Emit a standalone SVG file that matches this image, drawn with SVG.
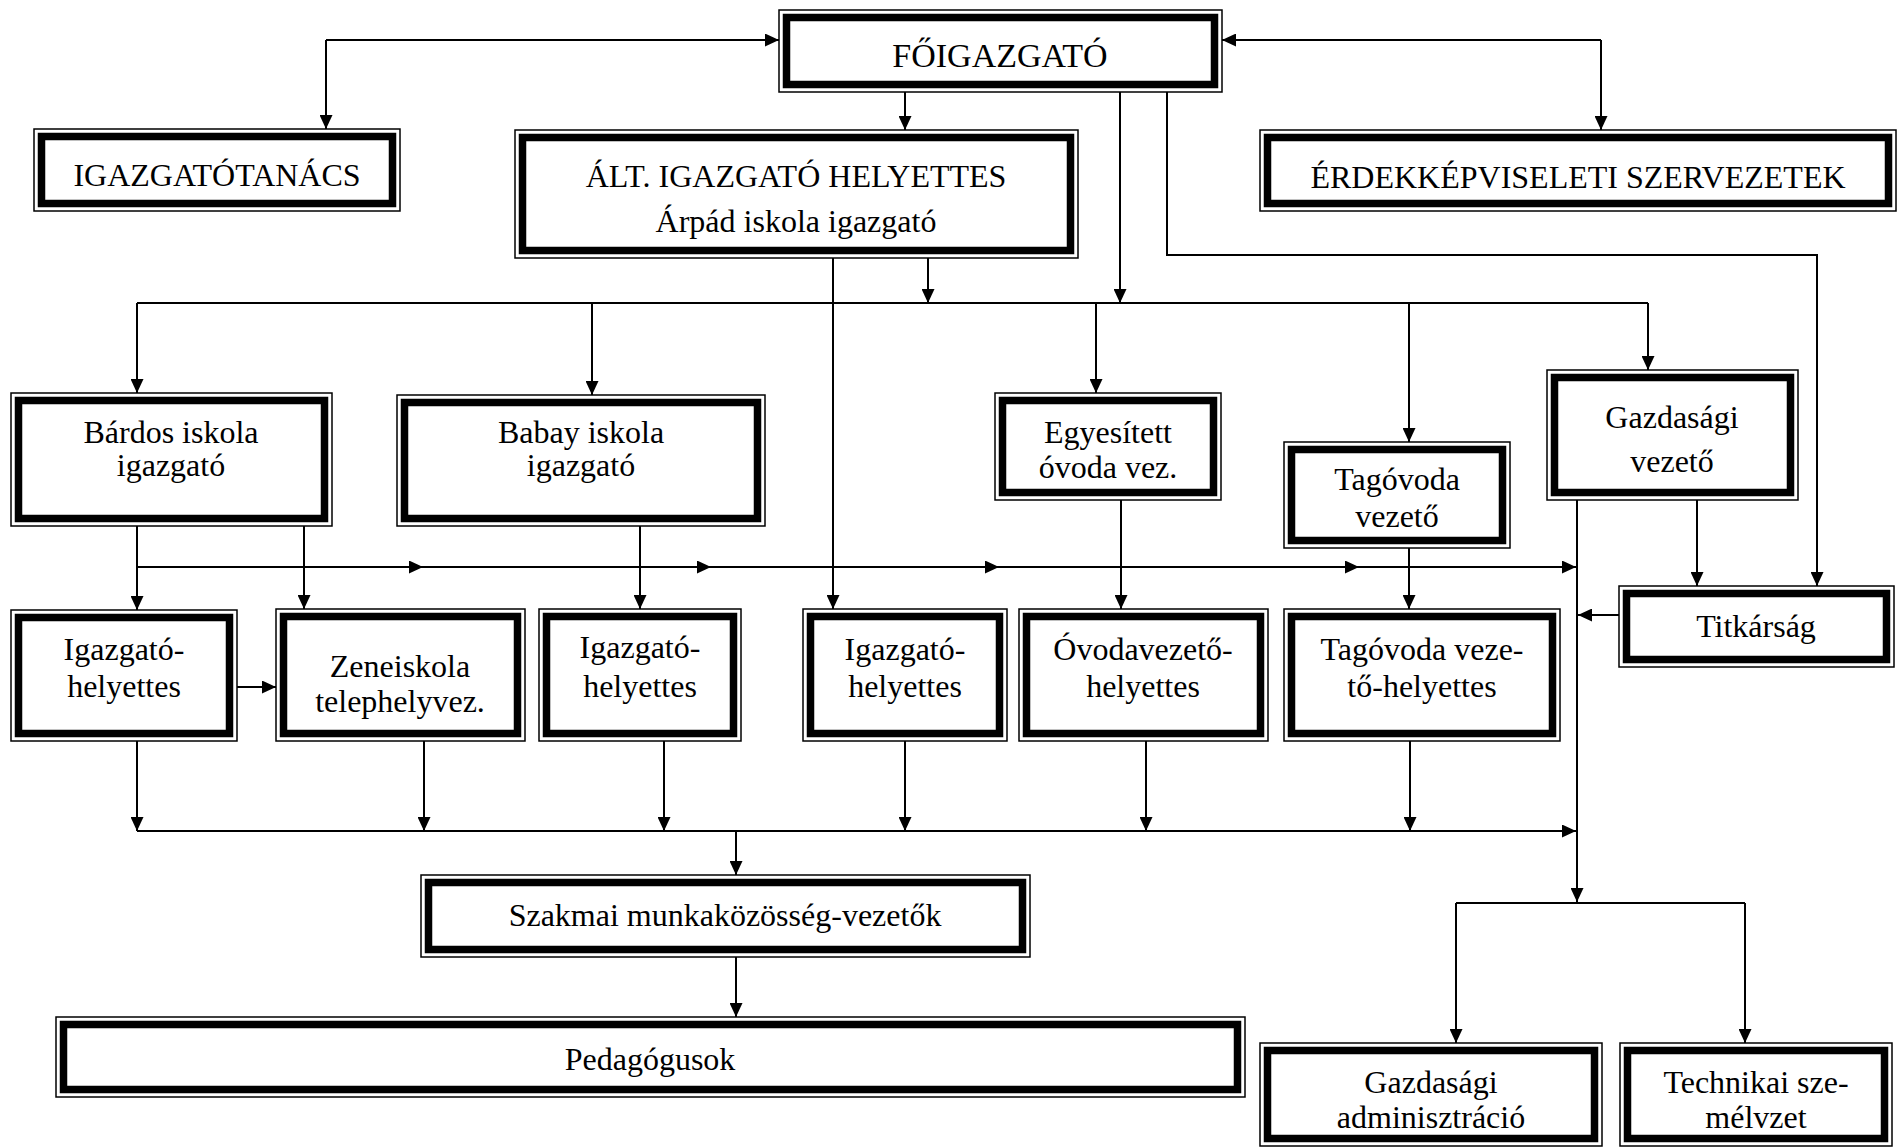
<svg xmlns="http://www.w3.org/2000/svg" width="1899" height="1147" viewBox="0 0 1899 1147">
<style>
.o{fill:#fff;stroke:#000;stroke-width:1.5}
.i{fill:none;stroke:#000;stroke-width:7.5}
text{font-family:"Liberation Serif","Times New Roman",serif;font-size:32px;fill:#000;text-anchor:middle}
.c path,.c polyline{fill:none;stroke:#000;stroke-width:2}
</style>
<defs>
<marker id="a" markerUnits="userSpaceOnUse" markerWidth="14" markerHeight="13" refX="14" refY="6.5" orient="auto">
<path d="M0,0 L14,6.5 L0,13 z" fill="#000"/>
</marker>
</defs>
<rect width="1899" height="1147" fill="#fff"/>
<g class="c" id="connectors">
<path d="M326,40 L779,40" marker-end="url(#a)"/>
<path d="M326,40 L326,129" marker-end="url(#a)"/>
<path d="M1601,40 L1222,40" marker-end="url(#a)"/>
<path d="M1601,40 L1601,130" marker-end="url(#a)"/>
<path d="M905,92 L905,130" marker-end="url(#a)"/>
<path d="M1120,92 L1120,303" marker-end="url(#a)"/>
<path d="M1167,92 L1167,255 L1817,255 L1817,586" marker-end="url(#a)"/>
<path d="M928,258 L928,303" marker-end="url(#a)"/>
<path d="M833,258 L833,609" marker-end="url(#a)"/>
<path d="M137,303 L1648,303"/>
<path d="M137,303 L137,393" marker-end="url(#a)"/>
<path d="M592,303 L592,395" marker-end="url(#a)"/>
<path d="M1096,303 L1096,393" marker-end="url(#a)"/>
<path d="M1409,303 L1409,442" marker-end="url(#a)"/>
<path d="M1648,303 L1648,370" marker-end="url(#a)"/>
<path d="M137,526 L137,610" marker-end="url(#a)"/>
<path d="M304,526 L304,609" marker-end="url(#a)"/>
<path d="M137,567 L423,567" marker-end="url(#a)"/>
<path d="M423,567 L711,567" marker-end="url(#a)"/>
<path d="M711,567 L999,567" marker-end="url(#a)"/>
<path d="M999,567 L1359,567" marker-end="url(#a)"/>
<path d="M1359,567 L1576,567" marker-end="url(#a)"/>
<path d="M640,526 L640,609" marker-end="url(#a)"/>
<path d="M1121,500 L1121,609" marker-end="url(#a)"/>
<path d="M1409,548 L1409,609" marker-end="url(#a)"/>
<path d="M1577,500 L1577,902" marker-end="url(#a)"/>
<path d="M1697,500 L1697,586" marker-end="url(#a)"/>
<path d="M1619,615 L1578,615" marker-end="url(#a)"/>
<path d="M237,687 L276,687" marker-end="url(#a)"/>
<path d="M137,741 L137,831" marker-end="url(#a)"/>
<path d="M424,741 L424,831" marker-end="url(#a)"/>
<path d="M664,741 L664,831" marker-end="url(#a)"/>
<path d="M905,741 L905,831" marker-end="url(#a)"/>
<path d="M1146,741 L1146,831" marker-end="url(#a)"/>
<path d="M1410,741 L1410,831" marker-end="url(#a)"/>
<path d="M137,831 L1576,831" marker-end="url(#a)"/>
<path d="M736,831 L736,875" marker-end="url(#a)"/>
<path d="M736,957 L736,1017" marker-end="url(#a)"/>
<path d="M1456,903 L1745,903"/>
<path d="M1456,903 L1456,1043" marker-end="url(#a)"/>
<path d="M1745,903 L1745,1043" marker-end="url(#a)"/>
</g>

<g id="foigazgato">
<rect class="o" x="779" y="10" width="443" height="82"/>
<rect class="i" x="786.5" y="17.5" width="428" height="67"/>
<text x="1000" y="67" style="font-size:34px">FŐIGAZGATÓ</text>
</g>
<g id="igazgatotanacs">
<rect class="o" x="34" y="129" width="366" height="82"/>
<rect class="i" x="41.5" y="136.5" width="351" height="67"/>
<text x="217" y="186">IGAZGATÓTANÁCS</text>
</g>
<g id="alt-igazgato">
<rect class="o" x="515" y="130" width="563" height="128"/>
<rect class="i" x="522.5" y="137.5" width="548" height="113"/>
<text x="796" y="187">ÁLT. IGAZGATÓ HELYETTES</text>
<text x="796" y="232">Árpád iskola igazgató</text>
</g>
<g id="erdekkepviseleti">
<rect class="o" x="1260" y="130" width="636" height="81"/>
<rect class="i" x="1267.5" y="137.5" width="621" height="66"/>
<text x="1578" y="188">ÉRDEKKÉPVISELETI SZERVEZETEK</text>
</g>
<g id="bardos">
<rect class="o" x="11" y="393" width="321" height="133"/>
<rect class="i" x="18.5" y="400.5" width="306" height="118"/>
<text x="171" y="443">Bárdos iskola</text>
<text x="171" y="476">igazgató</text>
</g>
<g id="babay">
<rect class="o" x="397" y="395" width="368" height="131"/>
<rect class="i" x="404.5" y="402.5" width="353" height="116"/>
<text x="581" y="443">Babay iskola</text>
<text x="581" y="476">igazgató</text>
</g>
<g id="egyesitett">
<rect class="o" x="995" y="393" width="226" height="107"/>
<rect class="i" x="1002.5" y="400.5" width="211" height="92"/>
<text x="1108" y="443">Egyesített</text>
<text x="1108" y="478">óvoda vez.</text>
</g>
<g id="tagovoda-vezeto">
<rect class="o" x="1284" y="442" width="226" height="106"/>
<rect class="i" x="1291.5" y="449.5" width="211" height="91"/>
<text x="1397" y="490">Tagóvoda</text>
<text x="1397" y="527">vezető</text>
</g>
<g id="gazdasagi-vezeto">
<rect class="o" x="1547" y="370" width="251" height="130"/>
<rect class="i" x="1554.5" y="377.5" width="236" height="115"/>
<text x="1672" y="428">Gazdasági</text>
<text x="1672" y="472">vezető</text>
</g>
<g id="titkarsag">
<rect class="o" x="1619" y="586" width="275" height="81"/>
<rect class="i" x="1626.5" y="593.5" width="260" height="66"/>
<text x="1756" y="637">Titkárság</text>
</g>
<g id="igh1">
<rect class="o" x="11" y="610" width="226" height="131"/>
<rect class="i" x="18.5" y="617.5" width="211" height="116"/>
<text x="124" y="660">Igazgató-</text>
<text x="124" y="697">helyettes</text>
</g>
<g id="zeneiskola">
<rect class="o" x="276" y="609" width="249" height="132"/>
<rect class="i" x="283.5" y="616.5" width="234" height="117"/>
<text x="400" y="677">Zeneiskola</text>
<text x="400" y="712">telephelyvez.</text>
</g>
<g id="igh2">
<rect class="o" x="539" y="609" width="202" height="132"/>
<rect class="i" x="546.5" y="616.5" width="187" height="117"/>
<text x="640" y="658">Igazgató-</text>
<text x="640" y="697">helyettes</text>
</g>
<g id="igh4">
<rect class="o" x="803" y="609" width="204" height="132"/>
<rect class="i" x="810.5" y="616.5" width="189" height="117"/>
<text x="905" y="660">Igazgató-</text>
<text x="905" y="697">helyettes</text>
</g>
<g id="ovodavezeto-h">
<rect class="o" x="1019" y="609" width="249" height="132"/>
<rect class="i" x="1026.5" y="616.5" width="234" height="117"/>
<text x="1143" y="660">Óvodavezető-</text>
<text x="1143" y="697">helyettes</text>
</g>
<g id="tagovoda-h">
<rect class="o" x="1284" y="609" width="276" height="132"/>
<rect class="i" x="1291.5" y="616.5" width="261" height="117"/>
<text x="1422" y="660">Tagóvoda veze-</text>
<text x="1422" y="697">tő-helyettes</text>
</g>
<g id="szakmai">
<rect class="o" x="421" y="875" width="609" height="82"/>
<rect class="i" x="428.5" y="882.5" width="594" height="67"/>
<text x="725" y="926">Szakmai munkaközösség-vezetők</text>
</g>
<g id="pedagogusok">
<rect class="o" x="56" y="1017" width="1189" height="80"/>
<rect class="i" x="63.5" y="1024.5" width="1174" height="65"/>
<text x="650" y="1070">Pedagógusok</text>
</g>
<g id="gazdasagi-adm">
<rect class="o" x="1260" y="1043" width="342" height="103"/>
<rect class="i" x="1267.5" y="1050.5" width="327" height="88"/>
<text x="1431" y="1093">Gazdasági</text>
<text x="1431" y="1128">adminisztráció</text>
</g>
<g id="technikai">
<rect class="o" x="1620" y="1043" width="272" height="103"/>
<rect class="i" x="1627.5" y="1050.5" width="257" height="88"/>
<text x="1756" y="1093">Technikai sze-</text>
<text x="1756" y="1128">mélvzet</text>
</g>
</svg>
